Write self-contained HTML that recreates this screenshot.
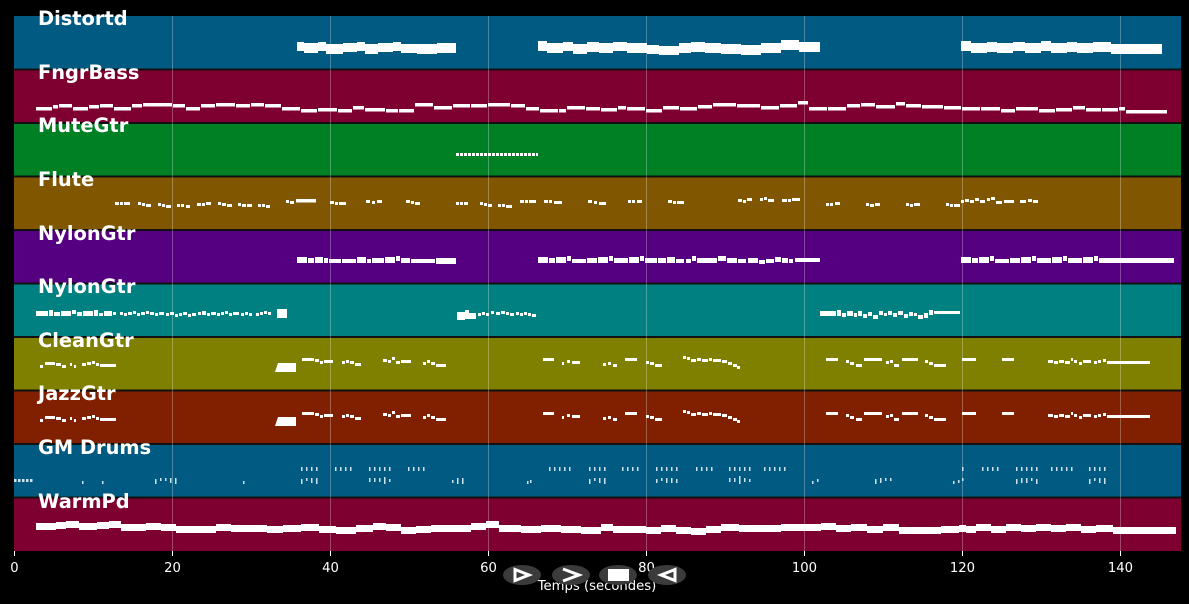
<!DOCTYPE html>
<html><head><meta charset="utf-8"><style>
html,body{margin:0;padding:0;background:#000;}
svg{display:block;}
.lbl{font-family:"DejaVu Sans","Liberation Sans",sans-serif;font-weight:bold;font-size:19.4px;fill:#fff;}
.tk{font-family:"DejaVu Sans","Liberation Sans",sans-serif;font-size:13.2px;fill:#fff;}
</style></head><body>
<svg width="1189" height="604" viewBox="0 0 1189 604" xmlns="http://www.w3.org/2000/svg">
<rect x="0" y="0" width="1189" height="604" fill="#000"/>
<!-- bands -->
<rect x="14" y="16" width="1167" height="53.5" fill="#005a82"/>
<rect x="14" y="69.5" width="1167" height="53.5" fill="#7d0030"/>
<rect x="14" y="123" width="1167" height="53.5" fill="#008025"/>
<rect x="14" y="176.5" width="1167" height="53.5" fill="#805700"/>
<rect x="14" y="230" width="1167" height="53.5" fill="#540080"/>
<rect x="14" y="283.5" width="1167" height="53.5" fill="#008080"/>
<rect x="14" y="337" width="1167" height="53.5" fill="#808000"/>
<rect x="14" y="390.5" width="1167" height="53.5" fill="#802000"/>
<rect x="14" y="444" width="1167" height="53.5" fill="#005a82"/>
<rect x="14" y="497.5" width="1167" height="53.5" fill="#7d0030"/>
<!-- separators -->
<g stroke="#111" stroke-width="2">
<line x1="14" y1="69.5" x2="1181" y2="69.5"/>
<line x1="14" y1="123" x2="1181" y2="123"/>
<line x1="14" y1="176.5" x2="1181" y2="176.5"/>
<line x1="14" y1="230" x2="1181" y2="230"/>
<line x1="14" y1="283.5" x2="1181" y2="283.5"/>
<line x1="14" y1="337" x2="1181" y2="337"/>
<line x1="14" y1="390.5" x2="1181" y2="390.5"/>
<line x1="14" y1="444" x2="1181" y2="444"/>
<line x1="14" y1="497.5" x2="1181" y2="497.5"/>
</g>
<!-- grid -->
<g stroke="#ffffff" stroke-opacity="0.28" stroke-width="1">
<line x1="172.5" y1="16" x2="172.5" y2="551"/>
<line x1="330.5" y1="16" x2="330.5" y2="551"/>
<line x1="488.5" y1="16" x2="488.5" y2="551"/>
<line x1="646.5" y1="16" x2="646.5" y2="551"/>
<line x1="804.5" y1="16" x2="804.5" y2="551"/>
<line x1="962.5" y1="16" x2="962.5" y2="551"/>
<line x1="1120.5" y1="16" x2="1120.5" y2="551"/>
</g>
<g fill="#fff">
<!-- Distortd -->
<rect x="297" y="42" width="7" height="9"/><rect x="304" y="43" width="14" height="10"/><rect x="318" y="42" width="8" height="9"/><rect x="326" y="44" width="17" height="10"/><rect x="343" y="43" width="14" height="9"/><rect x="357" y="42" width="8" height="9"/><rect x="365" y="44" width="13" height="10"/><rect x="378" y="43" width="15" height="9"/><rect x="393" y="42" width="8" height="9"/><rect x="401" y="44" width="16" height="9"/><rect x="417" y="44" width="20" height="10"/><rect x="437" y="43" width="19" height="10"/>
<rect x="538" y="41" width="9" height="10"/><rect x="547" y="43" width="16" height="10"/><rect x="563" y="42" width="10" height="9"/><rect x="573" y="44" width="14" height="10"/><rect x="587" y="42" width="12" height="10"/><rect x="599" y="43" width="14" height="10"/><rect x="613" y="42" width="14" height="9"/><rect x="627" y="43" width="20" height="10"/><rect x="647" y="45" width="12" height="9"/><rect x="659" y="46" width="20" height="9"/><rect x="679" y="43" width="12" height="10"/><rect x="691" y="42" width="14" height="10"/><rect x="705" y="43" width="16" height="10"/><rect x="721" y="44" width="20" height="10"/><rect x="741" y="45" width="20" height="10"/><rect x="761" y="43" width="20" height="10"/><rect x="781" y="40" width="18" height="10"/><rect x="799" y="42" width="21" height="10"/>
<rect x="961" y="41" width="10" height="10"/><rect x="971" y="43" width="16" height="10"/><rect x="987" y="42" width="10" height="10"/><rect x="997" y="43" width="16" height="10"/><rect x="1013" y="42" width="12" height="9"/><rect x="1025" y="43" width="16" height="10"/><rect x="1041" y="41" width="10" height="10"/><rect x="1051" y="43" width="16" height="10"/><rect x="1067" y="42" width="10" height="10"/><rect x="1077" y="43" width="16" height="10"/><rect x="1093" y="42" width="18" height="10"/><rect x="1111" y="44" width="51" height="10"/>
<!-- FngrBass -->
<rect x="36" y="107" width="16" height="3.5"/><rect x="53" y="105" width="5" height="3.5"/><rect x="59" y="104" width="13" height="3.5"/><rect x="73" y="107" width="15" height="3.5"/><rect x="89" y="105" width="10" height="3.5"/><rect x="100" y="104" width="13" height="3.5"/><rect x="114" y="107" width="17" height="3.5"/><rect x="132" y="104" width="10" height="3.5"/><rect x="143" y="103" width="29" height="3.5"/><rect x="173" y="104" width="12" height="3.5"/><rect x="186" y="107" width="14" height="3.5"/><rect x="201" y="104" width="14" height="3.5"/><rect x="216" y="103" width="19" height="3.5"/><rect x="236" y="104" width="14" height="3.5"/><rect x="251" y="103" width="13" height="3.5"/><rect x="265" y="104" width="16" height="3.5"/><rect x="282" y="107" width="18" height="3.5"/><rect x="301" y="109" width="16" height="3.5"/><rect x="318" y="108" width="19" height="3.5"/><rect x="338" y="109" width="14" height="3.5"/><rect x="353" y="106" width="11" height="3.5"/><rect x="365" y="108" width="20" height="3.5"/><rect x="386" y="109" width="12" height="3.5"/><rect x="399" y="109" width="15" height="3.5"/><rect x="415" y="103" width="18" height="3.5"/><rect x="434" y="106" width="18" height="3.5"/><rect x="453" y="104" width="17" height="3.5"/><rect x="471" y="104" width="16" height="3.5"/><rect x="488" y="103" width="22" height="3.5"/><rect x="511" y="104" width="14" height="3.5"/><rect x="526" y="107" width="13" height="3.5"/><rect x="540" y="109" width="18" height="3.5"/><rect x="559" y="109" width="7" height="3.5"/><rect x="567" y="106" width="18" height="3.5"/><rect x="586" y="107" width="14" height="3.5"/><rect x="601" y="108" width="16" height="3.5"/><rect x="618" y="106" width="8" height="3.5"/><rect x="627" y="107" width="18" height="3.5"/><rect x="646" y="109" width="16" height="3.5"/><rect x="663" y="106" width="16" height="3.5"/><rect x="680" y="107" width="17" height="3.5"/><rect x="698" y="105" width="14" height="3.5"/><rect x="713" y="103" width="23" height="3.5"/><rect x="737" y="104" width="23" height="3.5"/><rect x="761" y="106" width="18" height="3.5"/><rect x="780" y="104" width="17" height="3.5"/><rect x="798" y="101" width="10" height="3.5"/><rect x="809" y="107" width="18" height="3.5"/><rect x="828" y="107" width="18" height="3.5"/><rect x="847" y="104" width="13" height="3.5"/><rect x="861" y="103" width="14" height="3.5"/><rect x="876" y="105" width="19" height="3.5"/><rect x="896" y="102" width="9" height="3.5"/><rect x="906" y="104" width="15" height="3.5"/><rect x="922" y="105" width="21" height="3.5"/><rect x="944" y="106" width="17" height="3.5"/><rect x="962" y="107" width="18" height="3.5"/><rect x="981" y="107" width="19" height="3.5"/><rect x="1001" y="109" width="14" height="3.5"/><rect x="1016" y="107" width="22" height="3.5"/><rect x="1039" y="109" width="16" height="3.5"/><rect x="1056" y="108" width="16" height="3.5"/><rect x="1073" y="106" width="12" height="3.5"/><rect x="1086" y="108" width="15" height="3.5"/><rect x="1102" y="108" width="16" height="3.5"/><rect x="1119" y="107" width="6" height="3.5"/><rect x="1126" y="110" width="41" height="3.5"/>
<!-- Flute -->
<rect x="115" y="202" width="4" height="3"/><rect x="120" y="202" width="3" height="3"/><rect x="124" y="202" width="6" height="3"/>
<rect x="138" y="202" width="3" height="3"/><rect x="142" y="203" width="3" height="3"/><rect x="146" y="204" width="5" height="3"/>
<rect x="158" y="203" width="3" height="3"/><rect x="162" y="204" width="3" height="3"/><rect x="166" y="205" width="5" height="3"/>
<rect x="177" y="204" width="3" height="3"/><rect x="181" y="204" width="3" height="3"/><rect x="186" y="205" width="4" height="3"/>
<rect x="197" y="203" width="4" height="3"/><rect x="202" y="203" width="3" height="3"/><rect x="206" y="202" width="5" height="3"/>
<rect x="218" y="202" width="3" height="3"/><rect x="222" y="203" width="4" height="3"/><rect x="227" y="204" width="5" height="3"/>
<rect x="238" y="203" width="3" height="3"/><rect x="242" y="204" width="4" height="3"/><rect x="247" y="204" width="5" height="3"/>
<rect x="258" y="204" width="3" height="3"/><rect x="262" y="204" width="3" height="3"/><rect x="266" y="205" width="4" height="3"/>
<rect x="286" y="200" width="3" height="3"/><rect x="290" y="201" width="4" height="3"/><rect x="296" y="199" width="20" height="3.5"/>
<rect x="330" y="201" width="4" height="3"/><rect x="335" y="202" width="3" height="3"/><rect x="339" y="202" width="7" height="3"/>
<rect x="366" y="200" width="4" height="3"/><rect x="372" y="201" width="3" height="3"/><rect x="377" y="200" width="5" height="3"/>
<rect x="406" y="200" width="4" height="3"/><rect x="411" y="201" width="3" height="3"/><rect x="415" y="202" width="5" height="3"/>
<rect x="456" y="202" width="3" height="3"/><rect x="460" y="202" width="3" height="3"/><rect x="464" y="202" width="4" height="3"/>
<rect x="480" y="202" width="3" height="3"/><rect x="484" y="203" width="3" height="3"/><rect x="488" y="204" width="4" height="3"/>
<rect x="498" y="204" width="3" height="3"/><rect x="502" y="204" width="3" height="3"/><rect x="506" y="205" width="6" height="3"/>
<rect x="520" y="200" width="4" height="3"/><rect x="525" y="200" width="3" height="3"/><rect x="529" y="200" width="7" height="3"/>
<rect x="544" y="200" width="4" height="3"/><rect x="549" y="200" width="3" height="3"/><rect x="554" y="201" width="8" height="3"/>
<rect x="588" y="200" width="4" height="3"/><rect x="594" y="201" width="3" height="3"/><rect x="599" y="202" width="7" height="3"/>
<rect x="628" y="200" width="3" height="3"/><rect x="632" y="200" width="3" height="3"/><rect x="637" y="200" width="5" height="3"/>
<rect x="668" y="200" width="4" height="3"/><rect x="673" y="201" width="3" height="3"/><rect x="677" y="201" width="7" height="3"/>
<rect x="738" y="199" width="4" height="3"/><rect x="743" y="200" width="3" height="3"/><rect x="747" y="198" width="5" height="3"/>
<rect x="760" y="198" width="3" height="3"/><rect x="764" y="197" width="3" height="3"/><rect x="768" y="199" width="6" height="3"/>
<rect x="782" y="199" width="5" height="3"/><rect x="788" y="199" width="3" height="3"/><rect x="792" y="198" width="8" height="3"/>
<rect x="826" y="203" width="3" height="3"/><rect x="830" y="203" width="3" height="3"/><rect x="835" y="202" width="5" height="3"/>
<rect x="866" y="203" width="3" height="3"/><rect x="870" y="204" width="4" height="3"/><rect x="875" y="203" width="5" height="3"/>
<rect x="906" y="203" width="3" height="3"/><rect x="910" y="204" width="3" height="3"/><rect x="914" y="203" width="6" height="3"/>
<rect x="946" y="203" width="3" height="3"/><rect x="950" y="204" width="3" height="3"/><rect x="954" y="204" width="6" height="3"/>
<rect x="961" y="200" width="3" height="3"/><rect x="965" y="199" width="4" height="3"/><rect x="970" y="200" width="4" height="3"/><rect x="975" y="198" width="4" height="3"/><rect x="980" y="200" width="5" height="3"/><rect x="987" y="198" width="3" height="3"/><rect x="991" y="197" width="4" height="3"/><rect x="996" y="201" width="6" height="3"/><rect x="1004" y="200" width="10" height="3"/><rect x="1020" y="200" width="6" height="3"/><rect x="1028" y="199" width="4" height="3"/><rect x="1033" y="200" width="5" height="3"/>
<!-- NylonGtr 1 -->
<rect x="297" y="257" width="10" height="6"/><rect x="308" y="258" width="6" height="5"/><rect x="315" y="257" width="8" height="6"/><rect x="324" y="258" width="4" height="5"/><rect x="329" y="259" width="12" height="4"/><rect x="342" y="259" width="14" height="4"/><rect x="357" y="257" width="9" height="6"/><rect x="367" y="259" width="4" height="4"/><rect x="372" y="258" width="12" height="5"/><rect x="385" y="257" width="10" height="6"/><rect x="396" y="256" width="4" height="5"/><rect x="401" y="258" width="9" height="5"/><rect x="411" y="259" width="24" height="4"/><rect x="436" y="258" width="20" height="6"/>
<rect x="538" y="257" width="10" height="6"/><rect x="549" y="258" width="6" height="5"/><rect x="556" y="257" width="10" height="6"/><rect x="567" y="256" width="4" height="5"/><rect x="572" y="259" width="14" height="4"/><rect x="587" y="258" width="10" height="5"/><rect x="598" y="257" width="10" height="6"/><rect x="609" y="256" width="4" height="5"/><rect x="614" y="258" width="14" height="5"/><rect x="629" y="257" width="10" height="6"/><rect x="640" y="256" width="4" height="5"/><rect x="645" y="258" width="12" height="5"/><rect x="658" y="258" width="8" height="5"/><rect x="667" y="257" width="8" height="6"/><rect x="676" y="259" width="8" height="4"/><rect x="686" y="259" width="5" height="4"/><rect x="692" y="256" width="4" height="5"/><rect x="697" y="258" width="20" height="5"/><rect x="718" y="256" width="8" height="5"/><rect x="727" y="258" width="10" height="5"/><rect x="738" y="259" width="8" height="4"/><rect x="748" y="258" width="10" height="5"/><rect x="759" y="260" width="6" height="4"/><rect x="766" y="259" width="8" height="4"/><rect x="775" y="257" width="6" height="5"/><rect x="782" y="258" width="6" height="5"/><rect x="789" y="259" width="4" height="4"/><rect x="795" y="258" width="25" height="4"/>
<rect x="961" y="257" width="10" height="6"/><rect x="972" y="258" width="6" height="5"/><rect x="979" y="257" width="10" height="6"/><rect x="990" y="256" width="4" height="5"/><rect x="995" y="259" width="14" height="4"/><rect x="1010" y="258" width="10" height="5"/><rect x="1021" y="257" width="10" height="6"/><rect x="1032" y="256" width="4" height="5"/><rect x="1037" y="258" width="14" height="5"/><rect x="1052" y="257" width="10" height="6"/><rect x="1063" y="256" width="4" height="5"/><rect x="1068" y="258" width="14" height="5"/><rect x="1083" y="257" width="10" height="6"/><rect x="1094" y="256" width="4" height="5"/><rect x="1099" y="258" width="75" height="5"/>
<!-- NylonGtr 2 -->
<rect x="36" y="311" width="12" height="5"/><rect x="49" y="310" width="4" height="6"/><rect x="54" y="312" width="6" height="4"/><rect x="61" y="311" width="10" height="5"/><rect x="72" y="310" width="4" height="4"/><rect x="77" y="312" width="5" height="4"/><rect x="83" y="311" width="10" height="5"/><rect x="94" y="310" width="4" height="6"/><rect x="99" y="313" width="4" height="3"/><rect x="104" y="311" width="8" height="5"/><rect x="113" y="312" width="3" height="3"/>
<rect x="120" y="312" width="3" height="3"/><rect x="124" y="313" width="3" height="3"/><rect x="128" y="312" width="4" height="3"/><rect x="133" y="311" width="3" height="3"/><rect x="137" y="313" width="3" height="3"/><rect x="141" y="312" width="4" height="3"/><rect x="146" y="311" width="3" height="3"/><rect x="150" y="312" width="4" height="3"/><rect x="155" y="313" width="3" height="3"/><rect x="159" y="312" width="5" height="3"/><rect x="166" y="313" width="3" height="3"/><rect x="170" y="312" width="4" height="3"/><rect x="175" y="314" width="3" height="3"/><rect x="179" y="313" width="3" height="3"/><rect x="183" y="312" width="4" height="3"/><rect x="188" y="314" width="3" height="3"/><rect x="192" y="313" width="4" height="3"/>
<rect x="198" y="312" width="3" height="3"/><rect x="202" y="311" width="4" height="4"/><rect x="207" y="313" width="3" height="3"/><rect x="211" y="312" width="5" height="3"/><rect x="217" y="313" width="3" height="3"/><rect x="221" y="312" width="3" height="3"/><rect x="225" y="311" width="3" height="3"/><rect x="229" y="313" width="3" height="3"/><rect x="233" y="312" width="6" height="3"/><rect x="241" y="313" width="3" height="3"/><rect x="245" y="312" width="3" height="3"/><rect x="249" y="313" width="3" height="3"/><rect x="256" y="313" width="3" height="3"/><rect x="260" y="312" width="3" height="3"/><rect x="264" y="311" width="3" height="3"/><rect x="268" y="312" width="3" height="3"/>
<rect x="277" y="309" width="10" height="9"/>
<rect x="457" y="312" width="8" height="8"/><rect x="465" y="310" width="4" height="9"/><rect x="469" y="313" width="7" height="6"/><rect x="478" y="313" width="3" height="3"/><rect x="482" y="312" width="3" height="3"/><rect x="486" y="313" width="3" height="3"/><rect x="491" y="311" width="3" height="3"/><rect x="496" y="312" width="4" height="3"/><rect x="501" y="311" width="4" height="3"/><rect x="506" y="312" width="3" height="3"/><rect x="510" y="313" width="4" height="3"/><rect x="516" y="312" width="3" height="3"/><rect x="520" y="313" width="3" height="3"/><rect x="524" y="312" width="3" height="3"/><rect x="528" y="313" width="3" height="3"/><rect x="532" y="314" width="4" height="3"/>
<rect x="820" y="311" width="16" height="5"/><rect x="837" y="310" width="4" height="6"/><rect x="842" y="313" width="4" height="4"/><rect x="847" y="311" width="6" height="5"/><rect x="854" y="313" width="3" height="4"/><rect x="858" y="311" width="4" height="5"/><rect x="863" y="314" width="4" height="4"/><rect x="868" y="312" width="4" height="4"/><rect x="873" y="315" width="5" height="4"/><rect x="879" y="311" width="4" height="4"/><rect x="884" y="313" width="3" height="3"/><rect x="888" y="311" width="4" height="4"/><rect x="893" y="313" width="4" height="4"/><rect x="898" y="311" width="5" height="4"/><rect x="904" y="314" width="4" height="4"/><rect x="909" y="312" width="4" height="4"/><rect x="914" y="313" width="3" height="3"/><rect x="918" y="315" width="5" height="4"/><rect x="924" y="313" width="4" height="5"/><rect x="929" y="310" width="4" height="5"/><rect x="934" y="311" width="26" height="3"/>
<!-- CleanGtr -->
<g id="cg">
<rect x="40" y="365" width="3" height="3"/><rect x="45" y="362" width="10" height="3"/><rect x="56" y="363" width="5" height="3"/><rect x="62" y="365" width="4" height="3"/><rect x="70" y="363" width="2" height="3"/><rect x="74" y="365" width="2" height="3"/>
<rect x="82" y="363" width="4" height="3"/><rect x="87" y="362" width="4" height="3"/><rect x="92" y="361" width="3" height="3"/><rect x="96" y="363" width="3" height="3"/><rect x="100" y="364" width="16" height="3"/>
<polygon points="278,363 296,363 296,372 275,372"/>
<rect x="302" y="358" width="12" height="3"/><rect x="315" y="359" width="4" height="3"/><rect x="320" y="361" width="3" height="3"/><rect x="324" y="360" width="9" height="3"/>
<rect x="342" y="361" width="3" height="3"/><rect x="346" y="360" width="3" height="3"/><rect x="350" y="361" width="4" height="3"/><rect x="355" y="363" width="6" height="3"/>
<rect x="383" y="359" width="4" height="3"/><rect x="388" y="360" width="3" height="3"/><rect x="392" y="357" width="3" height="3"/><rect x="396" y="361" width="4" height="3"/><rect x="401" y="360" width="10" height="3"/>
<rect x="423" y="362" width="3" height="3"/><rect x="427" y="360" width="3" height="3"/><rect x="431" y="362" width="4" height="3"/><rect x="436" y="364" width="10" height="3"/>
<rect x="543" y="358" width="11" height="3"/>
<rect x="562" y="362" width="2" height="3"/><rect x="567" y="360" width="3" height="3"/><rect x="572" y="361" width="8" height="3"/>
<rect x="603" y="363" width="3" height="3"/><rect x="608" y="362" width="3" height="3"/><rect x="613" y="364" width="4" height="3"/><rect x="625" y="358" width="12" height="3"/>
<rect x="646" y="361" width="3" height="3"/><rect x="650" y="362" width="4" height="3"/><rect x="655" y="364" width="7" height="3"/>
<rect x="683" y="356" width="3" height="3"/><rect x="687" y="357" width="3" height="3"/><rect x="691" y="359" width="5" height="3"/><rect x="697" y="358" width="4" height="3"/><rect x="702" y="359" width="6" height="3"/><rect x="709" y="358" width="3" height="3"/><rect x="713" y="359" width="8" height="3"/><rect x="722" y="360" width="5" height="3"/><rect x="728" y="362" width="4" height="3"/><rect x="733" y="364" width="4" height="3"/><rect x="737" y="366" width="3" height="3"/>
<rect x="826" y="358" width="12" height="3"/>
<rect x="846" y="360" width="3" height="3"/><rect x="850" y="362" width="4" height="3"/><rect x="856" y="364" width="6" height="3"/><rect x="864" y="358" width="18" height="3"/>
<rect x="886" y="361" width="3" height="3"/><rect x="890" y="360" width="3" height="3"/><rect x="894" y="364" width="5" height="3"/><rect x="902" y="358" width="16" height="3"/>
<rect x="925" y="360" width="3" height="3"/><rect x="929" y="362" width="4" height="3"/><rect x="934" y="364" width="12" height="3"/>
<rect x="962" y="358" width="14" height="3"/>
<rect x="1002" y="358" width="12" height="3"/>
<rect x="1048" y="360" width="5" height="3"/><rect x="1054" y="361" width="4" height="3"/><rect x="1059" y="360" width="5" height="3"/><rect x="1065" y="361" width="5" height="3"/><rect x="1071" y="358" width="2" height="3"/><rect x="1074" y="360" width="3" height="3"/><rect x="1079" y="362" width="3" height="3"/><rect x="1083" y="360" width="8" height="3"/><rect x="1094" y="361" width="3" height="3"/><rect x="1098" y="360" width="3" height="3"/><rect x="1103" y="359" width="3" height="3"/><rect x="1107" y="361" width="43" height="3"/>
</g>
<use href="#cg" transform="translate(0,54)"/>
<!-- MuteGtr -->
<line x1="456" y1="154.5" x2="538" y2="154.5" stroke="#fff" stroke-width="3" stroke-dasharray="3 1"/>
<!-- WarmPd -->
<rect x="36" y="523" width="20" height="7"/><rect x="56" y="522" width="10" height="7"/><rect x="66" y="521" width="13" height="7"/><rect x="79" y="523" width="18" height="7"/><rect x="97" y="522" width="12" height="7"/><rect x="109" y="521" width="12" height="7"/><rect x="121" y="524" width="25" height="7"/><rect x="146" y="523" width="15" height="7"/><rect x="161" y="524" width="15" height="7"/><rect x="176" y="526" width="20" height="7"/><rect x="196" y="526" width="20" height="7"/><rect x="216" y="524" width="15" height="7"/><rect x="231" y="525" width="18" height="7"/><rect x="249" y="525" width="18" height="7"/><rect x="267" y="526" width="16" height="7"/><rect x="283" y="525" width="18" height="7"/><rect x="301" y="524" width="18" height="7"/><rect x="319" y="526" width="17" height="7"/><rect x="336" y="527" width="20" height="7"/><rect x="356" y="525" width="17" height="7"/><rect x="373" y="523" width="13" height="7"/><rect x="386" y="524" width="15" height="7"/><rect x="401" y="527" width="15" height="7"/><rect x="416" y="526" width="15" height="7"/><rect x="431" y="525" width="18" height="7"/><rect x="449" y="525" width="22" height="7"/><rect x="471" y="523" width="15" height="7"/><rect x="486" y="521" width="13" height="7"/><rect x="499" y="525" width="22" height="7"/><rect x="521" y="526" width="20" height="7"/><rect x="541" y="525" width="20" height="7"/><rect x="561" y="526" width="20" height="7"/><rect x="581" y="527" width="20" height="7"/><rect x="601" y="524" width="12" height="7"/><rect x="613" y="526" width="16" height="7"/><rect x="629" y="526" width="17" height="7"/><rect x="646" y="527" width="15" height="7"/><rect x="661" y="525" width="15" height="7"/><rect x="676" y="527" width="15" height="7"/><rect x="691" y="528" width="15" height="7"/><rect x="706" y="526" width="15" height="7"/><rect x="721" y="524" width="18" height="7"/><rect x="739" y="525" width="22" height="7"/><rect x="761" y="525" width="20" height="7"/><rect x="781" y="524" width="18" height="7"/><rect x="799" y="524" width="22" height="7"/><rect x="821" y="523" width="15" height="7"/><rect x="836" y="525" width="15" height="7"/><rect x="851" y="524" width="16" height="7"/><rect x="867" y="526" width="16" height="7"/><rect x="883" y="524" width="16" height="7"/><rect x="899" y="527" width="22" height="7"/><rect x="921" y="527" width="20" height="7"/><rect x="941" y="526" width="18" height="7"/><rect x="959" y="525" width="7" height="7"/><rect x="966" y="526" width="10" height="7"/><rect x="976" y="524" width="15" height="7"/><rect x="991" y="526" width="15" height="7"/><rect x="1006" y="524" width="15" height="7"/><rect x="1021" y="525" width="15" height="7"/><rect x="1036" y="524" width="15" height="7"/><rect x="1051" y="525" width="15" height="7"/><rect x="1066" y="524" width="15" height="7"/><rect x="1081" y="526" width="15" height="7"/><rect x="1096" y="525" width="17" height="7"/><rect x="1113" y="527" width="63" height="7"/>
</g>
<!-- GM Drums -->
<g fill="#cfe3ef">
<rect x="14" y="479" width="2.5" height="3"/><rect x="18" y="479" width="2.5" height="3"/><rect x="22" y="479" width="2.5" height="3"/><rect x="26" y="479" width="2.5" height="3"/><rect x="30" y="479" width="2.5" height="3"/>
<rect x="82" y="481" width="1.5" height="3"/><rect x="102" y="481" width="1.5" height="3"/>
<rect x="155" y="479" width="1.5" height="5"/><rect x="160" y="478" width="1.5" height="3"/><rect x="165" y="478" width="1.5" height="3"/><rect x="170" y="478" width="1.5" height="5"/><rect x="175" y="478" width="1.5" height="6"/>
<rect x="243" y="481" width="1.5" height="3"/>
<rect x="301" y="467" width="1.5" height="4"/><rect x="306" y="467" width="1.5" height="4"/><rect x="311" y="467" width="1.5" height="4"/><rect x="316" y="467" width="1.5" height="4"/>
<rect x="301" y="479" width="1.5" height="5"/><rect x="306" y="478" width="1.5" height="3"/><rect x="311" y="478" width="1.5" height="5"/><rect x="316" y="478" width="1.5" height="6"/>
<rect x="335" y="467" width="1.5" height="4"/><rect x="340" y="467" width="1.5" height="4"/><rect x="345" y="467" width="1.5" height="4"/><rect x="350" y="467" width="1.5" height="4"/>
<rect x="369" y="467" width="1.5" height="4"/><rect x="374" y="467" width="1.5" height="4"/><rect x="379" y="467" width="1.5" height="4"/><rect x="384" y="467" width="1.5" height="4"/><rect x="389" y="467" width="1.5" height="4"/>
<rect x="369" y="478" width="1.5" height="4"/><rect x="374" y="478" width="1.5" height="4"/><rect x="379" y="478" width="1.5" height="4"/><rect x="384" y="477" width="1.5" height="7"/><rect x="389" y="479" width="1.5" height="3"/>
<rect x="408" y="467" width="1.5" height="4"/><rect x="413" y="467" width="1.5" height="4"/><rect x="418" y="467" width="1.5" height="4"/><rect x="423" y="467" width="1.5" height="4"/>
<rect x="452" y="480" width="1.5" height="3"/><rect x="457" y="478" width="1.5" height="6"/><rect x="462" y="478" width="1.5" height="6"/>
<rect x="527" y="481" width="1.5" height="3"/><rect x="530" y="480" width="1.5" height="3"/>
<rect x="549" y="467" width="1.5" height="4"/><rect x="554" y="467" width="1.5" height="4"/><rect x="559" y="467" width="1.5" height="4"/><rect x="564" y="467" width="1.5" height="4"/><rect x="569" y="467" width="1.5" height="4"/>
<rect x="589" y="467" width="1.5" height="4"/><rect x="594" y="467" width="1.5" height="4"/><rect x="599" y="467" width="1.5" height="4"/><rect x="604" y="467" width="1.5" height="4"/>
<rect x="589" y="479" width="1.5" height="5"/><rect x="594" y="478" width="1.5" height="3"/><rect x="599" y="478" width="1.5" height="5"/><rect x="604" y="478" width="1.5" height="6"/>
<rect x="622" y="467" width="1.5" height="4"/><rect x="627" y="467" width="1.5" height="4"/><rect x="632" y="467" width="1.5" height="4"/><rect x="637" y="467" width="1.5" height="4"/>
<rect x="656" y="467" width="1.5" height="4"/><rect x="661" y="467" width="1.5" height="4"/><rect x="666" y="467" width="1.5" height="4"/><rect x="671" y="467" width="1.5" height="4"/><rect x="676" y="467" width="1.5" height="4"/>
<rect x="656" y="479" width="1.5" height="4"/><rect x="661" y="478" width="1.5" height="3"/><rect x="666" y="478" width="1.5" height="5"/><rect x="671" y="478" width="1.5" height="5"/><rect x="676" y="479" width="1.5" height="4"/>
<rect x="696" y="467" width="1.5" height="4"/><rect x="701" y="467" width="1.5" height="4"/><rect x="706" y="467" width="1.5" height="4"/><rect x="711" y="467" width="1.5" height="4"/>
<rect x="729" y="467" width="1.5" height="4"/><rect x="734" y="467" width="1.5" height="4"/><rect x="739" y="467" width="1.5" height="4"/><rect x="744" y="467" width="1.5" height="4"/><rect x="749" y="467" width="1.5" height="4"/>
<rect x="729" y="478" width="1.5" height="4"/><rect x="734" y="478" width="1.5" height="4"/><rect x="739" y="476" width="1.5" height="8"/><rect x="744" y="478" width="1.5" height="4"/><rect x="749" y="479" width="1.5" height="3"/>
<rect x="764" y="467" width="1.5" height="4"/><rect x="769" y="467" width="1.5" height="4"/><rect x="774" y="467" width="1.5" height="4"/><rect x="779" y="467" width="1.5" height="4"/><rect x="784" y="467" width="1.5" height="4"/>
<rect x="812" y="481" width="1.5" height="3"/><rect x="817" y="479" width="1.5" height="3"/>
<rect x="875" y="479" width="1.5" height="5"/><rect x="880" y="478" width="1.5" height="5"/><rect x="885" y="478" width="1.5" height="3"/><rect x="890" y="478" width="1.5" height="3"/>
<rect x="953" y="481" width="1.5" height="3"/><rect x="958" y="480" width="1.5" height="3"/><rect x="962" y="478" width="1.5" height="3"/>
<rect x="962" y="467" width="1.5" height="4"/>
<rect x="982" y="467" width="1.5" height="4"/><rect x="987" y="467" width="1.5" height="4"/><rect x="992" y="467" width="1.5" height="4"/><rect x="997" y="467" width="1.5" height="4"/>
<rect x="1016" y="467" width="1.5" height="4"/><rect x="1021" y="467" width="1.5" height="4"/><rect x="1026" y="467" width="1.5" height="4"/><rect x="1031" y="467" width="1.5" height="4"/><rect x="1036" y="467" width="1.5" height="4"/>
<rect x="1016" y="479" width="1.5" height="5"/><rect x="1021" y="478" width="1.5" height="5"/><rect x="1026" y="478" width="1.5" height="5"/><rect x="1031" y="478" width="1.5" height="3"/><rect x="1036" y="479" width="1.5" height="5"/>
<rect x="1051" y="467" width="1.5" height="4"/><rect x="1056" y="467" width="1.5" height="4"/><rect x="1061" y="467" width="1.5" height="4"/><rect x="1066" y="467" width="1.5" height="4"/><rect x="1071" y="467" width="1.5" height="4"/>
<rect x="1089" y="467" width="1.5" height="4"/><rect x="1094" y="467" width="1.5" height="4"/><rect x="1099" y="467" width="1.5" height="4"/><rect x="1104" y="467" width="1.5" height="4"/>
<rect x="1089" y="479" width="1.5" height="5"/><rect x="1094" y="478" width="1.5" height="3"/><rect x="1099" y="478" width="1.5" height="5"/><rect x="1104" y="478" width="1.5" height="6"/>
</g>
<!-- labels -->
<text class="lbl" x="38" y="25">Distortd</text>
<text class="lbl" x="38" y="79">FngrBass</text>
<text class="lbl" x="38" y="132">MuteGtr</text>
<text class="lbl" x="38" y="186">Flute</text>
<text class="lbl" x="38" y="240">NylonGtr</text>
<text class="lbl" x="38" y="293">NylonGtr</text>
<text class="lbl" x="38" y="347">CleanGtr</text>
<text class="lbl" x="38" y="400">JazzGtr</text>
<text class="lbl" x="38" y="454">GM Drums</text>
<text class="lbl" x="38" y="508">WarmPd</text>
<!-- x ticks -->
<g stroke="#fff" stroke-width="1">
<line x1="14.5" y1="551" x2="14.5" y2="556"/>
<line x1="172.5" y1="551" x2="172.5" y2="556"/>
<line x1="330.5" y1="551" x2="330.5" y2="556"/>
<line x1="488.5" y1="551" x2="488.5" y2="556"/>
<line x1="646.5" y1="551" x2="646.5" y2="556"/>
<line x1="804.5" y1="551" x2="804.5" y2="556"/>
<line x1="962.5" y1="551" x2="962.5" y2="556"/>
<line x1="1120.5" y1="551" x2="1120.5" y2="556"/>
</g>
<g class="tk" text-anchor="middle">
<text x="14.5" y="572">0</text>
<text x="172.5" y="572">20</text>
<text x="330.5" y="572">40</text>
<text x="488.5" y="572">60</text>
<text x="646.5" y="572">80</text>
<text x="804.5" y="572">100</text>
<text x="962.5" y="572">120</text>
<text x="1120.5" y="572">140</text>
<text x="597" y="590">Temps (secondes)</text>
</g>
<!-- buttons -->
<g fill="#3b3b3b">
<ellipse cx="522" cy="575" rx="19" ry="10"/>
<ellipse cx="571" cy="575" rx="19" ry="10"/>
<ellipse cx="618" cy="575" rx="19" ry="10"/>
<ellipse cx="667" cy="575" rx="19" ry="10"/>
</g>
<g fill="none" stroke="#fff" stroke-width="3" stroke-linejoin="miter">
<polygon points="515,569.5 529,575 515,580.5"/>
<polyline points="563,569 579,575 563,581"/>
<polygon points="675,569.5 661,575 675,580.5"/>
</g>
<rect x="608" y="569" width="21" height="12" fill="#fff"/>
</svg>
</body></html>
